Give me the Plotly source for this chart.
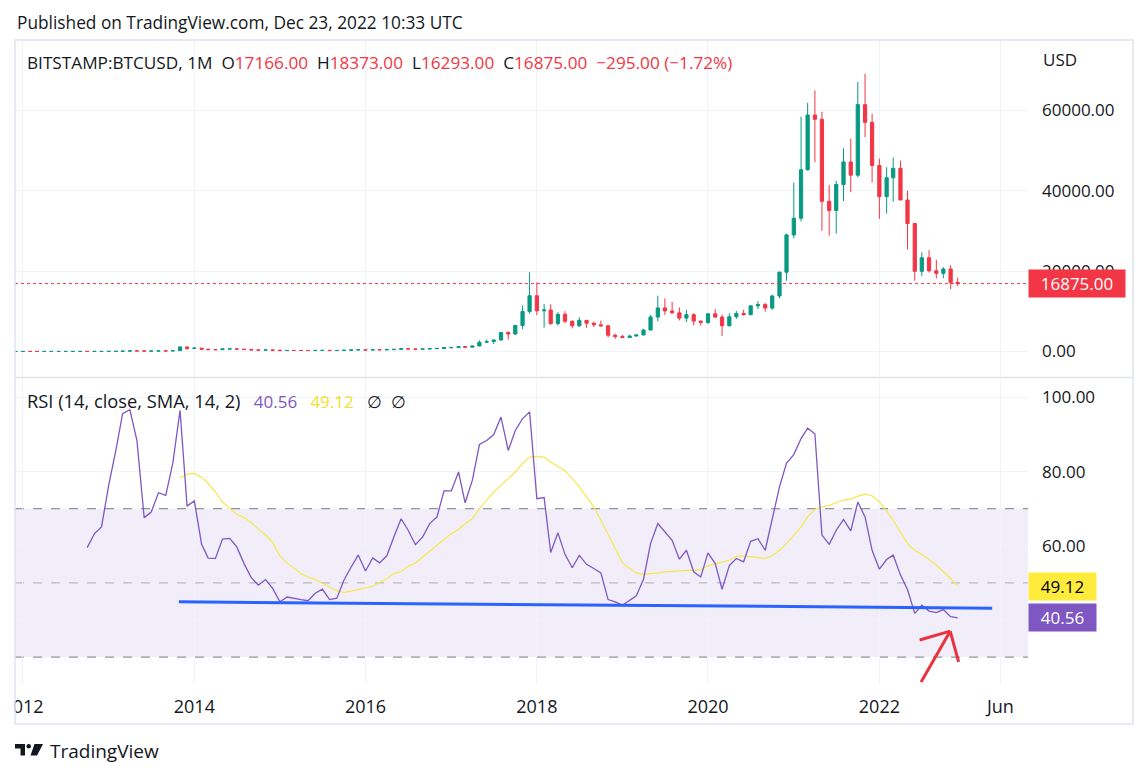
import pandas as pd
import plotly.graph_objects as go

# monthly candles, BITSTAMP:BTCUSD, Aug 2011 .. Dec 2022
opens = [
    10.9, 8.2, 5.1, 3.2, 3.0,
    4.7, 5.5, 4.9, 4.9, 5.0, 5.2, 6.7, 9.4, 10.2, 12.4, 11.2, 12.6,
    13.5, 20.4, 33.4, 93, 139, 129, 97, 106, 135, 133, 198, 1130,
    754, 830, 550, 450, 445, 630, 640, 585, 480, 386, 338, 378,
    320, 217, 254, 244, 236, 230, 263, 284, 230, 236, 314, 377,
    430, 368, 437, 416, 448, 531, 673, 624, 573, 608, 700, 742,
    963, 970, 1190, 1080, 1350, 2300, 2480, 2870, 4730, 4340, 6450, 9950,
    13860, 10109, 10313, 6925, 9245, 7495, 6390, 7730, 7030, 6630, 6370, 4040,
    3740, 3460, 3830, 4100, 5320, 8560, 10820, 10080, 9600, 8290, 9150, 7550,
    7190, 9350, 8540, 6410, 8630, 9450, 9140, 11340, 11650, 10780, 13800, 19700,
    28980, 33110, 45160, 58770, 57720, 37330, 35040, 41490, 47110, 43820, 61350, 56950,
    46220, 38480, 43180, 45530, 37650, 31800, 19930, 23300, 20050, 19420, 20490, 17166,
]
highs = [
    11.9, 8.8, 5.2, 3.8, 4.8,
    7.4, 6.3, 5.4, 5.2, 5.2, 6.7, 9.6, 15.4, 12.5, 12.9, 12.6, 13.8,
    21, 33.5, 95, 266, 140, 129, 112, 139, 139, 220, 1163, 1160,
    1020, 850, 715, 540, 630, 680, 650, 600, 490, 420, 460, 380,
    320, 265, 300, 261, 247, 267, 316, 285, 262, 333, 502, 470,
    462, 448, 440, 468, 548, 779, 703, 630, 615, 720, 753, 975,
    1150, 1200, 1350, 1420, 2760, 2980, 2920, 4760, 4990, 6470, 11400, 19666,
    17176, 11789, 11700, 9760, 10000, 7760, 8490, 7770, 7410, 7680, 6600, 4400,
    4130, 4200, 4130, 5620, 9100, 13880, 13200, 12330, 10930, 10370, 9530, 7700,
    9580, 10500, 9190, 9460, 10070, 10390, 11430, 12470, 12070, 14100, 19860, 29300,
    41950, 58350, 61790, 64900, 59600, 41330, 42400, 50500, 52900, 67000, 69000, 59100,
    47950, 45800, 48200, 47450, 39980, 31960, 24650, 25200, 22800, 20950, 21450, 18373,
]
lows = [
    7.2, 4.6, 2.2, 2.0, 2.8,
    4.6, 4.2, 4.6, 4.8, 4.9, 5.2, 6.5, 7.1, 9.8, 9.8, 10.5, 12.4,
    13, 19.5, 33, 50, 105, 88, 65, 102, 118, 102, 197, 380,
    740, 400, 440, 340, 420, 550, 570, 440, 370, 275, 320, 300,
    152, 212, 240, 215, 227, 220, 254, 198, 225, 236, 310, 349,
    350, 365, 391, 412, 441, 522, 600, 470, 570, 603, 685, 740,
    750, 915, 890, 1060, 1350, 2100, 1840, 2650, 2970, 4120, 5530, 9400,
    9036, 5920, 6600, 6430, 7030, 5750, 6100, 5880, 6100, 6200, 3500, 3130,
    3360, 3380, 3740, 4060, 5320, 7490, 9070, 9360, 7710, 7300, 6520, 6430,
    6850, 8450, 3850, 6150, 8120, 8900, 8980, 10540, 9880, 10380, 13200, 17600,
    28130, 32300, 44970, 47000, 30000, 28800, 29300, 37400, 39600, 43300, 53300, 42000,
    32950, 34300, 37200, 37700, 25400, 17600, 18800, 19600, 18150, 18200, 15500, 16293,
]
closes = [
    8.2, 5.1, 3.2, 3.0, 4.7,
    5.5, 4.9, 4.9, 5.0, 5.2, 6.7, 9.4, 10.2, 12.4, 11.2, 12.6, 13.5,
    20.4, 33.4, 93, 139, 129, 97, 106, 135, 133, 198, 1130, 754,
    830, 550, 450, 445, 630, 640, 585, 480, 386, 338, 378, 320,
    217, 254, 244, 236, 230, 263, 284, 230, 236, 314, 377, 430,
    368, 437, 416, 448, 531, 673, 624, 573, 608, 700, 742, 963,
    970, 1190, 1080, 1350, 2300, 2480, 2870, 4730, 4340, 6450, 9950, 13860,
    10109, 10313, 6925, 9245, 7495, 6390, 7730, 7030, 6630, 6370, 4040, 3740,
    3460, 3830, 4100, 5320, 8560, 10820, 10080, 9600, 8290, 9150, 7550, 7190,
    9350, 8540, 6410, 8630, 9450, 9140, 11340, 11650, 10780, 13800, 19700, 28980,
    33110, 45160, 58770, 57720, 37330, 35040, 41490, 47110, 43820, 61350, 56950, 46220,
    38480, 43180, 45530, 37650, 31800, 19930, 23300, 20050, 19420, 20490, 17166, 16875,
]
candle_dates = pd.date_range("2011-08-01", periods=len(closes), freq="MS")
last_change = -295.00
last_change_pct = -1.72

rsi_values = [
    59.5, 63.3, 65.1,
    76.4, 86.0, 95.6, 96.7, 88.4, 67.6, 69.1, 74.3, 73.6, 82.2, 96.5, 70.7,
    72.1, 60.4, 56.7, 56.6, 61.8, 62.0, 59.7, 55.2, 51.4, 49.4, 50.9, 48.5,
    44.9, 46.2, 45.8, 45.5, 45.2, 47.2, 48.3, 45.5, 45.9, 50.7, 54.3, 57.5,
    53.2, 56.7, 55.4, 57.3, 62.4, 67.3, 64.2, 60.3, 62.4, 66.0, 67.8, 74.8,
    74.8, 79.9, 71.6, 77.7, 87.3, 88.4, 90.0, 94.7, 85.7, 91.1, 94.3, 96.1,
    72.7, 73.0, 58.2, 63.5, 57.7, 54.1, 57.4, 55.0, 53.9, 52.7, 45.5, 44.9,
    44.0, 45.4, 46.5, 51.0, 60.6, 66.0, 63.7, 61.5, 56.4, 58.8, 53.0, 51.6,
    58.1, 55.2, 48.3, 54.7, 56.6, 55.7, 61.2, 61.9, 58.8, 66.9, 75.9, 82.3,
    84.6, 88.9, 91.7, 90.2, 62.9, 60.4, 64.2, 67.1, 64.0, 71.8, 67.8, 58.8,
    53.7, 56.3, 57.5, 52.1, 48.2, 41.8, 44.0, 42.4, 42.0, 42.8, 40.9, 40.56,
]
rsi_dates = pd.date_range("2012-10-01", periods=len(rsi_values), freq="MS")

# SMA(14) of RSI, Nov 2013 .. Dec 2022
sma_values = [
    78.3, 79.3,
    79.5, 78.5, 76.8, 74.5, 71.8, 70.0, 68.5, 67.6, 66.2, 64.5, 62.9, 60.9,
    57.2, 55.4, 53.9, 52.5, 51.6, 50.9, 49.9, 48.8, 47.9, 47.4, 47.8, 48.2,
    48.5, 49.1, 50.1, 51.2, 52.5, 53.0, 54.5, 55.4, 57.0, 58.6, 60.2, 61.7,
    63.3, 64.4, 66.0, 67.3, 70.0, 72.3, 74.5, 76.3, 78.1, 79.9, 82.2, 83.9,
    84.1, 83.9, 82.6, 81.4, 80.2, 78.1, 75.9, 73.2, 70.5, 66.9, 62.9, 59.3,
    55.4, 53.9, 52.7, 52.3, 52.4, 52.7, 53.0, 53.2, 53.3, 53.4, 53.4, 53.6,
    54.6, 55.2, 55.6, 56.1, 57.2, 57.3, 57.0, 56.8, 56.6, 57.3, 58.8, 60.6,
    62.9, 65.1, 67.8, 69.8, 70.5, 70.9, 71.6, 72.3, 72.6, 73.4, 73.9, 73.5,
    71.8, 69.4, 66.9, 63.7, 60.6, 58.8, 57.7, 56.3, 54.8, 53.0, 51.2, 49.12,
]
sma_dates = pd.date_range("2013-11-01", periods=len(sma_values), freq="MS")

# hand drawn trend line and arrow on the RSI pane
trend_x = ["2013-10-27", "2023-04-27"]
trend_y = [44.9, 43.2]
arrow_shaft_x = ["2022-06-28", "2022-10-30"]
arrow_shaft_y = [23.3, 37.0]
arrow_head_x = ["2022-06-22", "2022-10-30", "2022-12-05"]
arrow_head_y = [34.6, 37.0, 28.7]

tick_dates = ["2012-01-01", "2014-01-01", "2016-01-01", "2018-01-01",
              "2020-01-01", "2022-01-01", "2023-06-01"]
tick_text = ["2012", "2014", "2016", "2018", "2020", "2022", "Jun"]
x_range = ["2011-11-28", "2023-09-27"]

UP = "#089981"
DOWN = "#F23645"
GRID = "#F0F3FA"
TXT = "#131722"
FONT = "Open Sans"

fig = go.Figure()

fig.add_trace(go.Candlestick(
    x=candle_dates, open=opens, high=highs, low=lows, close=closes,
    increasing=dict(line=dict(color=UP, width=1), fillcolor=UP),
    decreasing=dict(line=dict(color=DOWN, width=1), fillcolor=DOWN),
    whiskerwidth=0, hoverinfo="skip", xaxis="x", yaxis="y",
))

fig.add_trace(go.Scatter(
    x=sma_dates, y=sma_values, mode="lines",
    line=dict(color="#F7E84A", width=1.2), hoverinfo="skip",
    xaxis="x2", yaxis="y2",
))
fig.add_trace(go.Scatter(
    x=rsi_dates, y=rsi_values, mode="lines",
    line=dict(color="#7E57C2", width=1.3), hoverinfo="skip",
    xaxis="x2", yaxis="y2",
))

# the page puts the plot 8px in from the window corner, so coordinates
# below are in window pixels of the reference and shifted here
OFF = 8
FIG_W, FIG_H = 1148 - 2 * OFF, 778 - 2 * OFF
PLOT_L, PLOT_R, PLOT_T, PLOT_B = 15, 1028, 40, 684
W = float(PLOT_R - PLOT_L)
H = float(PLOT_B - PLOT_T)


def px(x):
    return (x - PLOT_L) / W


def py(y):
    return (PLOT_B - y) / H


shapes = []
# overbought / oversold band
shapes.append(dict(type="rect", xref="x2 domain", yref="y2", x0=0, x1=1, y0=30, y1=70,
                   fillcolor="rgba(126,87,194,0.1)", line_width=0, layer="below"))
for lvl, col in [(70, "#787B86"), (50, "rgba(120,123,134,0.55)"), (30, "#787B86")]:
    shapes.append(dict(type="line", xref="x2 domain", yref="y2", x0=0, x1=1, y0=lvl, y1=lvl,
                       line=dict(color=col, width=1, dash="dash"), layer="below"))
# last price line
shapes.append(dict(type="line", xref="x domain", yref="y", x0=0, x1=1,
                   y0=closes[-1], y1=closes[-1],
                   line=dict(color=DOWN, width=1, dash="dot")))
# trend line
shapes.append(dict(type="line", xref="x2", yref="y2", x0=trend_x[0], x1=trend_x[1],
                   y0=trend_y[0], y1=trend_y[1], line=dict(color="#2962FF", width=3)))
# red arrow
shapes.append(dict(type="line", xref="x2", yref="y2", x0=arrow_shaft_x[0], x1=arrow_shaft_x[1],
                   y0=arrow_shaft_y[0], y1=arrow_shaft_y[1], line=dict(color="#E8323F", width=3)))
for i in (0, 2):
    shapes.append(dict(type="line", xref="x2", yref="y2", x0=arrow_head_x[i], x1=arrow_head_x[1],
                       y0=arrow_head_y[i], y1=arrow_head_y[1], line=dict(color="#E8323F", width=3)))

# frame pieces
shapes.append(dict(type="rect", xref="paper", yref="paper", x0=px(0), x1=px(14.5),
                   y0=py(730), y1=py(36), fillcolor="white", line_width=0, layer="above"))
shapes.append(dict(type="rect", xref="paper", yref="paper", x0=px(15), x1=px(1133),
                   y0=py(724), y1=py(40), line=dict(color="#E0E3EB", width=1.5), layer="above"))
shapes.append(dict(type="line", xref="paper", yref="paper", x0=px(15), x1=px(1133),
                   y0=py(377.5), y1=py(377.5), line=dict(color="#E0E3EB", width=1.5)))
# TradingView logo
shapes.append(dict(type="rect", xref="paper", yref="paper", x0=px(15), x1=px(25),
                   y0=py(748.5), y1=py(744), fillcolor="#131722", line_width=0))
shapes.append(dict(type="rect", xref="paper", yref="paper", x0=px(20.5), x1=px(25),
                   y0=py(755.5), y1=py(744), fillcolor="#131722", line_width=0))
shapes.append(dict(type="circle", xref="paper", yref="paper", x0=px(26.5), x1=px(31),
                   y0=py(748.5), y1=py(744), fillcolor="#131722", line_width=0))
shapes.append(dict(type="path", xref="paper", yref="paper",
                   path=f"M {px(34.5)} {py(744)} L {px(43)} {py(744)} L {px(37)} {py(755.5)} "
                        f"L {px(30.5)} {py(755.5)} Z",
                   fillcolor="#131722", line_width=0))

red = f"color:{DOWN}"
legend = (f"BITSTAMP:BTCUSD, 1M&nbsp;&nbsp;O<span style='{red}'>{opens[-1]:.2f}</span>&nbsp;&nbsp;"
          f"H<span style='{red}'>{highs[-1]:.2f}</span>&nbsp;&nbsp;"
          f"L<span style='{red}'>{lows[-1]:.2f}</span>&nbsp;&nbsp;"
          f"C<span style='{red}'>{closes[-1]:.2f}</span>&nbsp;&nbsp;"
          f"<span style='{red}'>−{abs(last_change):.2f} (−{abs(last_change_pct):.2f}%)</span>")
rsi_legend = (f"<span style='font-size:18.3px'>RSI (14, close, SMA, 14, 2)</span>&nbsp;&nbsp;&nbsp;"
              f"<span style='color:#7E57C2'>{rsi_values[-1]:.2f}</span>&nbsp;&nbsp;&nbsp;"
              f"<span style='color:#F2DE2C'>{sma_values[-1]:.2f}</span>&nbsp;&nbsp;&nbsp;∅&nbsp;&nbsp;∅")

annotations = [
    dict(text="Published on TradingView.com, Dec 23, 2022 10:33 UTC", xref="paper", yref="paper",
         x=px(15), y=py(22), xanchor="left", yanchor="middle", showarrow=False,
         font=dict(size=17.3, color=TXT)),
    dict(text=legend, xref="paper", yref="paper", x=px(25), y=py(63),
         xanchor="left", yanchor="middle", showarrow=False, font=dict(size=17.2, color=TXT)),
    dict(text="USD", xref="paper", yref="paper", x=px(1041), y=py(60),
         xanchor="left", yanchor="middle", showarrow=False, font=dict(size=17, color=TXT)),
    dict(text=rsi_legend, xref="paper", yref="paper", x=px(25), y=py(401),
         xanchor="left", yanchor="middle", showarrow=False, font=dict(size=17, color=TXT)),
    dict(text="TradingView", xref="paper", yref="paper", x=px(48), y=py(751),
         xanchor="left", yanchor="middle", showarrow=False, font=dict(size=19, color=TXT)),
    dict(text=f"{closes[-1]:.2f}", xref="paper", yref="y", x=1.0, y=closes[-1],
         xanchor="left", yanchor="middle", showarrow=False, bgcolor=DOWN,
         width=94, height=25, borderpad=1, font=dict(size=17, color="white")),
    dict(text=f"{sma_values[-1]:.2f}", xref="paper", yref="y2", x=1.0, y=sma_values[-1],
         xanchor="left", yanchor="middle", showarrow=False, bgcolor="#FFEB3B",
         width=65, height=25, borderpad=1, font=dict(size=17, color="black")),
    dict(text=f"{rsi_values[-1]:.2f}", xref="paper", yref="y2", x=1.0, y=rsi_values[-1],
         xanchor="left", yanchor="middle", showarrow=False, bgcolor="#7E57C2",
         width=65, height=25, borderpad=1, font=dict(size=17, color="white")),
]

xcommon = dict(type="date", range=x_range, tickvals=tick_dates, ticktext=tick_text,
               showgrid=True, gridcolor=GRID, gridwidth=1, zeroline=False,
               showline=False, ticks="", fixedrange=True, automargin=False)

fig.update_layout(
    width=FIG_W, height=FIG_H,
    margin=dict(l=PLOT_L - OFF, r=FIG_W - (PLOT_R - OFF), t=PLOT_T - OFF,
                b=FIG_H - (PLOT_B - OFF), autoexpand=False),
    paper_bgcolor="white", plot_bgcolor="white",
    font=dict(family=FONT, color=TXT),
    showlegend=False,
    xaxis=dict(**xcommon, domain=[0, 1], anchor="y", showticklabels=False,
               rangeslider=dict(visible=False)),
    xaxis2=dict(**xcommon, domain=[0, 1], anchor="y2", showticklabels=True,
                ticklabeloverflow="allow",
                tickfont=dict(size=18, color=TXT), ticklabelstandoff=10),
    yaxis=dict(domain=[py(377.5), 1], range=[-6470, 77420], side="right", anchor="x",
               tickvals=[0, 20000, 40000, 60000], tickformat=".2f", automargin=False,
               showgrid=True, gridcolor=GRID, zeroline=False, showline=False, ticks="",
               tickfont=dict(size=17, color=TXT), ticklabelstandoff=13),
    yaxis2=dict(domain=[0, py(378.5)], range=[22.75, 105.1], side="right", anchor="x2",
                tickvals=[40, 60, 80, 100], ticktext=["", "60.00", "80.00", "100.00"],
                automargin=False,
                showgrid=True, gridcolor=GRID, zeroline=False, showline=False, ticks="",
                tickfont=dict(size=17, color=TXT), ticklabelstandoff=13),
    shapes=shapes,
    annotations=annotations,
    boxgap=0.3,
)

fig.write_html("out.html")
